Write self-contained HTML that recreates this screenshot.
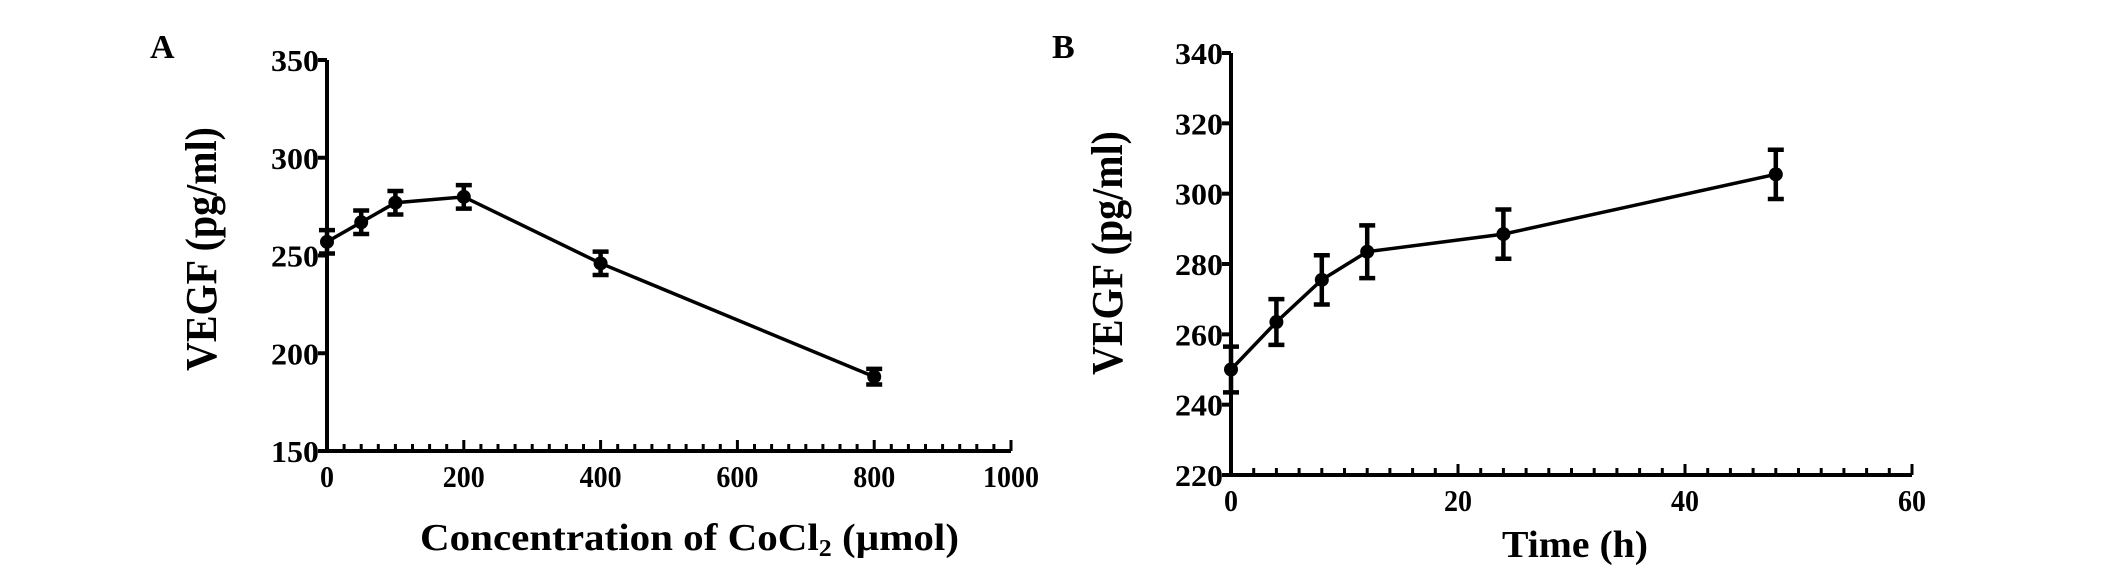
<!DOCTYPE html>
<html><head><meta charset="utf-8"><style>
html,body{margin:0;padding:0;background:#fff;}
svg{display:block;}
text{font-family:"Liberation Serif",serif;font-weight:bold;fill:#000;}
</style></head><body>
<svg id="c" width="2125" height="570" viewBox="0 0 2125 570"></svg>
<script>
const aX=[0,50,100,200,400,800];
const aY=[257,267,277,280,246,188];
const aErr=[6,6,6,6,6,4];
const aXTicks=[0,200,400,600,800,1000];
const aYTicks=[150,200,250,300,350];
const bX=[0,4,8,12,24,48];
const bY=[250,263.5,275.5,283.5,288.5,305.5];
const bErr=[6.5,6.5,7,7.5,7,7];
const bXTicks=[0,20,40,60];
const bYTicks=[220,240,260,280,300,320,340];

const svg=document.getElementById('c');
const NS='http://www.w3.org/2000/svg';
function el(t,a,p){const e=document.createElementNS(NS,t);for(const k in a)e.setAttribute(k,a[k]);(p||svg).appendChild(e);return e;}

function panel(cfg){
  const g=el('g',{});
  
  
  const sx=v=>cfg.x0+(v-cfg.xmin)/(cfg.xmax-cfg.xmin)*(cfg.x1-cfg.x0);
  const sy=v=>cfg.y0+(v-cfg.ymin)/(cfg.ymax-cfg.ymin)*(cfg.y1-cfg.y0);
  const ax=el('path',{d:`M${cfg.x0},${cfg.y1} L${cfg.x0},${cfg.y0} L${cfg.x1},${cfg.y0}`,stroke:'#000','stroke-width':4,fill:'none'},g);
  
  
  for(let v=cfg.xmin;v<=cfg.xmax+1e-9;v+=cfg.minor){
    const major=cfg.xTicks.some(t=>Math.abs(t-v)<1e-9);
    const t=el('line',{x1:sx(v),x2:sx(v),y1:cfg.y0,y2:cfg.y0-(major?11:7),stroke:'#000','stroke-width':3},g);
    
    
  }
  cfg.xTicks.forEach(v=>{
    const t=el('text',{x:sx(v),y:cfg.y0+36,'text-anchor':'middle','font-size':31,textLength:String(v).length*14,lengthAdjust:'spacingAndGlyphs'},g);
    t.textContent=v;
    
    
  });
  cfg.yTicks.forEach(v=>{
    const l=el('line',{x1:cfg.x0-9,x2:cfg.x0,y1:sy(v),y2:sy(v),stroke:'#000','stroke-width':4},g);
    
    
    const t=el('text',{x:cfg.x0-8,y:sy(v)+11,'text-anchor':'end','font-size':31,textLength:String(v).length*16,lengthAdjust:'spacingAndGlyphs'},g);
    t.textContent=v;
    
    
  });
  const pts=cfg.xs.map((x,i)=>sx(x)+','+sy(cfg.ys[i])).join(' ');
  const pl=el('polyline',{points:pts,fill:'none',stroke:'#000','stroke-width':3.5},g);
  
  
  cfg.xs.forEach((x,i)=>{
    const cx=sx(x),t=sy(cfg.ys[i]+cfg.err[i]),b=sy(cfg.ys[i]-cfg.err[i]);
    const e=el('path',{d:`M${cx},${t} L${cx},${b} M${cx-8},${t} L${cx+8},${t} M${cx-8},${b} L${cx+8},${b}`,stroke:'#000','stroke-width':4.5,fill:'none'},g);
    
    
    const c=el('circle',{cx:cx,cy:sy(cfg.ys[i]),r:7,fill:'#000'},g);
    
    
  });
  const lab=el('text',{x:cfg.labX,y:cfg.labY,'font-size':34},g);
  lab.textContent=cfg.label;
  
  
  const yt=el('text',{x:0,y:0,'font-size':44,'text-anchor':'middle',transform:`translate(${cfg.ytX},${cfg.ytY}) rotate(-90)`,textLength:cfg.ytLen,lengthAdjust:'spacingAndGlyphs'},g);
  yt.textContent='VEGF (pg/ml)';
  
  
  const xt=el('text',{x:cfg.xtX,y:cfg.xtY,'font-size':38,textLength:cfg.xtLen,lengthAdjust:'spacingAndGlyphs'},g);
  xt.innerHTML=cfg.xTitle;
  
  
}
panel({name:'panel-a',x0:327,x1:1011,y0:451,y1:60,xmin:0,xmax:1000,ymin:150,ymax:350,minor:25,
  xTicks:aXTicks,yTicks:aYTicks,xs:aX,ys:aY,err:aErr,label:'A',labX:150,labY:58,
  ytX:216,ytY:249,ytLen:244,xtX:420,xtY:550,xtLen:539,
  xTitle:'Concentration of CoCl<tspan font-size="24" dy="6">2</tspan><tspan dy="-6"> (µmol)</tspan>'});
panel({name:'panel-b',x0:1231,x1:1912,y0:475,y1:53,xmin:0,xmax:60,ymin:220,ymax:340,minor:2,
  xTicks:bXTicks,yTicks:bYTicks,xs:bX,ys:bY,err:bErr,label:'B',labX:1052,labY:58,
  ytX:1122,ytY:253,ytLen:244,xtX:1502,xtY:557,xtLen:146,xTitle:'Time (h)'});
</script>
</body></html>
